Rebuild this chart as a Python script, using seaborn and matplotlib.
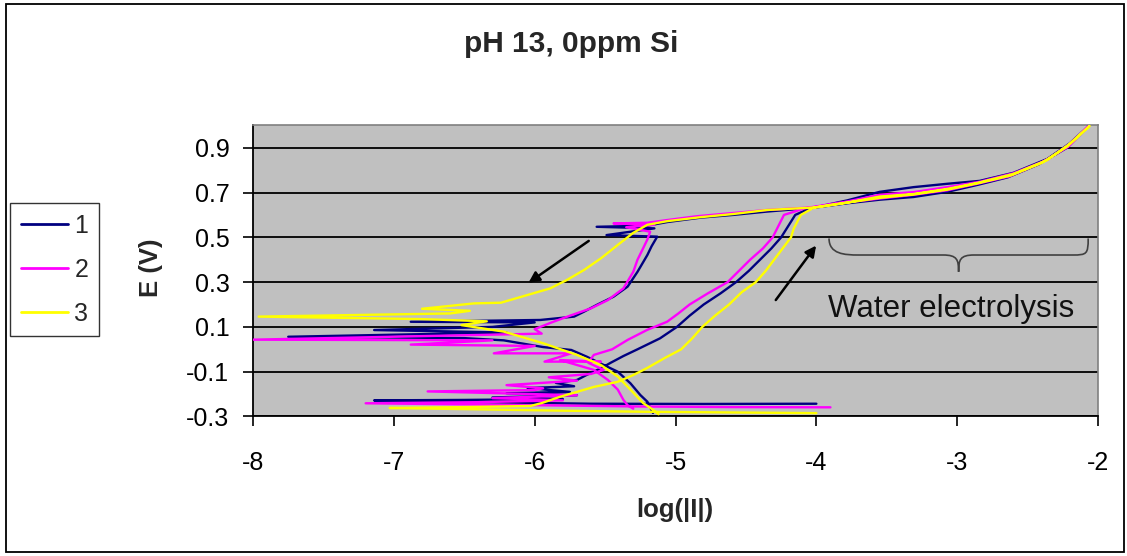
import matplotlib
matplotlib.use("Agg")
import matplotlib.pyplot as plt
from matplotlib.patches import Rectangle, PathPatch
from matplotlib.path import Path
import seaborn as sns
import pandas as pd

# Cyclic polarisation scans (log|I| vs E), in scan order
logi_1 = [-4.00, -4.80, -5.60, -6.40, -7.14, -6.50, -5.80, -6.30, -5.70, -6.20, -5.75, -6.05, -5.72,
          -5.85, -5.70, -5.63, -5.53, -5.46, -5.37, -5.27, -5.11, -4.99, -4.90, -4.80, -4.68, -4.57,
          -4.48, -4.40, -4.32, -4.25, -4.20, -4.15, -4.05, -3.78, -3.55, -3.31, -3.07, -2.84, -2.60,
          -2.36, -2.20, -2.07, -2.22, -2.42, -2.64, -2.85, -3.07, -3.31, -3.55, -3.78, -4.02, -4.35,
          -4.59, -4.82, -5.06, -5.20, -5.56, -5.15, -5.49, -5.13, -5.17, -5.20, -5.27, -5.34, -5.44,
          -5.56, -5.65, -5.72, -5.96, -6.88, -6.00, -6.30, -7.14, -6.20, -7.75, -6.50, -6.22, -5.94,
          -5.74, -5.63, -5.51, -5.41, -5.32, -5.25, -5.20, -5.16]
e_1 = [-0.243, -0.244, -0.243, -0.236, -0.228, -0.226, -0.222, -0.215, -0.205, -0.196, -0.190, -0.173,
       -0.165, -0.150, -0.137, -0.114, -0.085, -0.060, -0.030, 0.000, 0.049, 0.100, 0.150, 0.200, 0.250,
       0.300, 0.350, 0.400, 0.450, 0.500, 0.550, 0.600, 0.628, 0.665, 0.703, 0.724, 0.739, 0.752, 0.788,
       0.850, 0.920, 0.995, 0.900, 0.826, 0.768, 0.735, 0.703, 0.680, 0.668, 0.652, 0.632, 0.615, 0.600,
       0.588, 0.568, 0.552, 0.547, 0.540, 0.510, 0.503, 0.460, 0.421, 0.346, 0.280, 0.235, 0.198, 0.168,
       0.146, 0.131, 0.123, 0.120, 0.100, 0.086, 0.075, 0.056, 0.050, 0.040, 0.010, -0.003, -0.033,
       -0.070, -0.100, -0.152, -0.204, -0.234, -0.284]

logi_2 = [-3.90, -4.60, -5.30, -6.20, -7.20, -6.40, -5.80, -6.30, -5.70, -6.76, -6.00, -5.94, -6.20,
          -5.70, -5.90, -5.60, -5.51, -5.62, -5.58, -5.45, -5.34, -5.20, -5.06, -4.98, -4.90, -4.77,
          -4.63, -4.55, -4.47, -4.38, -4.31, -4.27, -4.23, -4.08, -3.78, -3.55, -3.31, -3.07, -2.84,
          -2.60, -2.36, -2.20, -2.07, -2.21, -2.41, -2.63, -2.85, -3.07, -3.31, -3.55, -3.78, -4.02,
          -4.35, -4.60, -4.85, -5.06, -5.20, -5.44, -5.15, -5.35, -5.18, -5.20, -5.23, -5.27, -5.30,
          -5.37, -5.48, -5.60, -5.75, -5.88, -6.00, -5.95, -8.00, -6.30, -6.88, -6.00, -6.29, -5.74,
          -5.93, -5.53, -5.82, -5.58, -5.48, -5.41, -5.37, -5.34, -5.30]
e_2 = [-0.259, -0.258, -0.255, -0.248, -0.241, -0.236, -0.228, -0.218, -0.205, -0.188, -0.182, -0.174,
       -0.160, -0.140, -0.125, -0.110, -0.092, -0.060, -0.025, 0.000, 0.042, 0.087, 0.123, 0.160, 0.200,
       0.250, 0.300, 0.350, 0.400, 0.450, 0.500, 0.550, 0.600, 0.630, 0.660, 0.690, 0.702, 0.724, 0.748,
       0.786, 0.846, 0.918, 0.995, 0.905, 0.830, 0.772, 0.740, 0.710, 0.690, 0.673, 0.656, 0.634, 0.622,
       0.608, 0.594, 0.577, 0.565, 0.562, 0.556, 0.545, 0.525, 0.490, 0.451, 0.400, 0.346, 0.272, 0.220,
       0.183, 0.150, 0.120, 0.090, 0.070, 0.043, 0.040, 0.021, 0.015, -0.018, -0.018, -0.055, -0.055,
       -0.048, -0.092, -0.137, -0.180, -0.226, -0.250, -0.265]

logi_3 = [-4.00, -4.60, -5.20, -5.80, -6.40, -7.03, -6.50, -6.03, -5.95, -5.82, -5.70, -5.58, -5.41,
          -5.30, -5.20, -5.08, -4.96, -4.88, -4.81, -4.72, -4.62, -4.53, -4.43, -4.36, -4.30, -4.24,
          -4.18, -4.16, -4.11, -4.02, -3.78, -3.55, -3.31, -3.07, -2.84, -2.60, -2.36, -2.20, -2.06,
          -2.22, -2.40, -2.62, -2.85, -3.07, -3.31, -3.55, -3.78, -4.02, -4.35, -4.59, -4.82, -5.06,
          -5.20, -5.30, -5.41, -5.53, -5.65, -5.77, -5.89, -6.01, -6.24, -6.43, -6.80, -6.46, -6.60,
          -7.96, -6.81, -6.34, -6.52, -6.22, -5.94, -5.70, -5.53, -5.41, -5.32, -5.23, -5.16, -5.12]
e_3 = [-0.285, -0.282, -0.279, -0.274, -0.268, -0.262, -0.258, -0.253, -0.240, -0.212, -0.190, -0.168,
       -0.145, -0.115, -0.083, -0.040, 0.000, 0.050, 0.100, 0.150, 0.200, 0.255, 0.300, 0.350, 0.400,
       0.450, 0.500, 0.540, 0.600, 0.632, 0.655, 0.682, 0.693, 0.716, 0.745, 0.783, 0.845, 0.918, 0.997,
       0.905, 0.832, 0.776, 0.742, 0.713, 0.692, 0.676, 0.655, 0.633, 0.622, 0.604, 0.590, 0.572, 0.556,
       0.520, 0.466, 0.406, 0.354, 0.310, 0.272, 0.250, 0.208, 0.205, 0.181, 0.172, 0.160, 0.146, 0.135,
       0.125, 0.108, 0.079, 0.027, -0.025, -0.070, -0.122, -0.180, -0.240, -0.270, -0.290]

series_names = ["1", "2", "3"]
series_colors = ["#000080", "#FF00FF", "#FFFF00"]
x_ticks = [-8, -7, -6, -5, -4, -3, -2]
y_ticks = [-0.3, -0.1, 0.1, 0.3, 0.5, 0.7, 0.9]

frames = []
for name, xs, ys in zip(series_names, [logi_1, logi_2, logi_3], [e_1, e_2, e_3]):
    frames.append(pd.DataFrame({"logI": xs, "E": ys, "series": name, "step": range(len(xs))}))
df = pd.concat(frames, ignore_index=True)

sns.set_theme(style="white")
plt.rcParams["font.family"] = ["Liberation Sans", "DejaVu Sans"]

fig = plt.figure(figsize=(11.27, 5.56), dpi=100)
fig.patch.set_facecolor("white")
ax = fig.add_axes([0.2245, 0.2509, 0.7498, 0.5237])
ax.set_facecolor("#C0C0C0")

for yt in y_ticks:
    ax.axhline(yt, color="black", lw=1.3, zorder=1)

sns.lineplot(data=df, x="logI", y="E", hue="series", hue_order=series_names,
             palette=series_colors, sort=False, estimator=None, units="series",
             lw=1.7, ax=ax, zorder=3, legend=True)

ax.set_xlim(-8, -2)
ax.set_ylim(-0.3, 1.0)
ax.set_xticks(x_ticks)
ax.set_xticklabels([str(v) for v in x_ticks])
ax.set_yticks(y_ticks)
ax.set_yticklabels([f"{v:.1f}" for v in y_ticks])
ax.tick_params(axis="both", labelsize=18, colors="black", direction="out",
               length=7, width=1.2, left=True, bottom=True)
ax.tick_params(axis="y", pad=10)
ax.tick_params(axis="x", pad=18)
ax.set_xlabel("")
ax.set_ylabel("")

for side in ["left", "bottom"]:
    ax.spines[side].set_color("black")
    ax.spines[side].set_linewidth(1.3)
for side in ["top", "right"]:
    ax.spines[side].set_color("#808080")
    ax.spines[side].set_linewidth(1.2)

# Scan direction arrows
ax.annotate("", xy=(-6.06, 0.29), xytext=(-5.60, 0.491),
            arrowprops=dict(arrowstyle="-|>", color="black", lw=1.8, mutation_scale=16), zorder=5)
ax.annotate("", xy=(-3.99, 0.473), xytext=(-4.30, 0.21),
            arrowprops=dict(arrowstyle="-|>", color="black", lw=1.8, mutation_scale=16), zorder=5)

# Curly brace over the electrolysis region
brace = [(-3.91, 0.495), (-3.91, 0.425), (-3.80, 0.421), (-3.70, 0.421),
         (-3.10, 0.421),
         (-3.00, 0.421), (-2.99, 0.40), (-2.99, 0.346),
         (-2.99, 0.40), (-2.98, 0.421), (-2.88, 0.421),
         (-2.18, 0.421),
         (-2.08, 0.421), (-2.07, 0.425), (-2.07, 0.495)]
codes = [Path.MOVETO, Path.CURVE4, Path.CURVE4, Path.CURVE4,
         Path.LINETO,
         Path.CURVE4, Path.CURVE4, Path.CURVE4,
         Path.CURVE4, Path.CURVE4, Path.CURVE4,
         Path.LINETO,
         Path.CURVE4, Path.CURVE4, Path.CURVE4]
ax.add_patch(PathPatch(Path(brace, codes), fill=False, ec="#404040", lw=1.2, zorder=5))
ax.text(-3.04, 0.18, "Water electrolysis", fontsize=22.5, color="#111111",
        ha="center", va="center", zorder=6)

leg = ax.legend(loc="center", bbox_to_anchor=(0.0484, 0.5144), bbox_transform=fig.transFigure,
                fontsize=18, frameon=True, fancybox=False, handlelength=1.9, handletextpad=0.25,
                labelspacing=0.8, borderpad=0.42, borderaxespad=0)
leg.get_frame().set_edgecolor("black")
leg.get_frame().set_linewidth(1.0)
for line in leg.get_lines():
    line.set_linewidth(2.0)

fig.text(0.5067, 0.920, "pH 13, 0ppm Si", fontsize=21.5, fontweight="bold",
         ha="center", va="center")
fig.text(0.1344, 0.518, "E (V)", fontsize=18.5, fontweight="bold", rotation=90,
         ha="center", va="center")
fig.text(0.599, 0.083, "log(|I|)", fontsize=18.5, fontweight="bold", ha="center", va="center")

fig.patches.append(Rectangle((0.0055, 0.007), 0.9915, 0.986, transform=fig.transFigure,
                             fill=False, ec="black", lw=1.3))

fig.savefig("out.png", dpi=100)
